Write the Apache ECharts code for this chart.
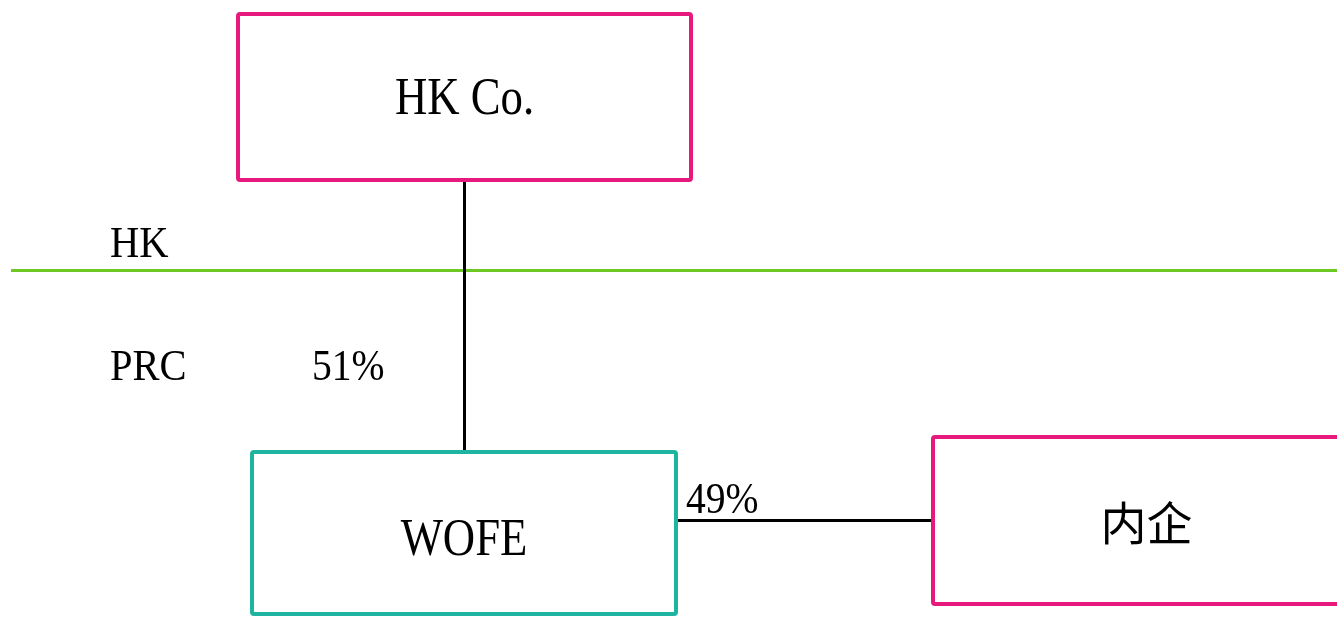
<!DOCTYPE html>
<html>
<head>
<meta charset="utf-8">
<style>html,body{margin:0;padding:0;background:#fff;}#c{width:1337px;height:617px;}</style>
<script src="https://cdn.jsdelivr.net/npm/echarts@6/dist/echarts.min.js"></script>
</head>
<body>
<div id="c"></div>
<script>
// ---- data ----
var entityNames = ['HK Co.', 'WOFE', '内企'];
var entityX0 = [238, 252, 933];
var entityY0 = [14, 452, 437];
var entityX1 = [691, 676, 1360];
var entityY1 = [180, 614, 604];
var entityKind = ['foreign', 'wofe', 'domestic'];
var labelDY = [3, 8, 2];
var regionNames = ['HK', 'PRC'];
var shareLabels = ['51%', '49%'];
// links in diagram units
var linkFrom = [[464, 181], [677, 520]];
var linkTo = [[464, 452], [932, 520]];
var borderLine = [[11, 270], [1337, 270]];

var kindColor = {foreign: '#E8197C', wofe: '#1DB5A0', domestic: '#E8197C'};

var chart = echarts.init(document.getElementById('c'), null, {renderer: 'canvas'});

var boxData = entityNames.map(function (n, i) {
  return [entityX0[i], entityY0[i], entityX1[i], entityY1[i], n, entityKind[i], labelDY[i]];
});
var regionData = [[110, 245, regionNames[0]], [110, 368, regionNames[1]]];
var shareData = [[312, 368, shareLabels[0]], [686, 501, shareLabels[1]]];

var serif = '"Liberation Serif", "Times New Roman", serif';

chart.setOption({
  animation: false,
  grid: {left: 0, right: 0, top: 0, bottom: 0},
  xAxis: {type: 'value', min: 0, max: 1337, show: false},
  yAxis: {type: 'value', min: 0, max: 617, inverse: true, show: false},
  series: [
    {
      type: 'lines',
      coordinateSystem: 'cartesian2d',
      silent: true,
      lineStyle: {color: '#6DC823', width: 3, opacity: 1},
      data: [{coords: borderLine}],
      z: 1
    },
    {
      type: 'lines',
      coordinateSystem: 'cartesian2d',
      silent: true,
      lineStyle: {color: '#000', width: 3, opacity: 1},
      data: linkFrom.map(function (f, i) { return {coords: [f, linkTo[i]]}; }),
      z: 2
    },
    {
      type: 'custom',
      coordinateSystem: 'cartesian2d',
      silent: true,
      clip: false,
      data: boxData,
      z: 3,
      renderItem: function (params, api) {
        var p0 = api.coord([api.value(0), api.value(1)]);
        var p1 = api.coord([api.value(2), api.value(3)]);
        var d = boxData[params.dataIndex];
        var isCJK = d[5] === 'domestic';
        return {
          type: 'group',
          children: [
            {
              type: 'rect',
              shape: {x: p0[0], y: p0[1], width: p1[0] - p0[0], height: p1[1] - p0[1], r: 2},
              style: {fill: '#fff', stroke: kindColor[d[5]], lineWidth: 4}
            },
            {
              type: 'text',
              x: (p0[0] + p1[0]) / 2,
              y: (p0[1] + p1[1]) / 2 + d[6],
              scaleX: isCJK ? 1 : 0.86,
              style: {
                text: d[4],
                x: 0, y: 0,
                align: 'center', verticalAlign: 'middle',
                fill: '#000',
                font: isCJK ? '46px "Noto Sans CJK TC", sans-serif' : '52px ' + serif
              }
            }
          ]
        };
      }
    },
    {
      type: 'custom',
      coordinateSystem: 'cartesian2d',
      silent: true,
      data: regionData.concat(shareData),
      z: 4,
      renderItem: function (params, api) {
        var p = api.coord([api.value(0), api.value(1)]);
        var all = regionData.concat(shareData);
        var isRegion = params.dataIndex < regionData.length;
        return {
          type: 'text',
          x: p[0], y: p[1],
          scaleX: isRegion ? 0.9 : 0.88,
          style: {
            text: all[params.dataIndex][2],
            x: 0, y: 0,
            align: 'left', verticalAlign: 'middle',
            fill: '#000',
            font: '45px ' + serif
          }
        };
      }
    }
  ]
});
</script>
</body>
</html>
